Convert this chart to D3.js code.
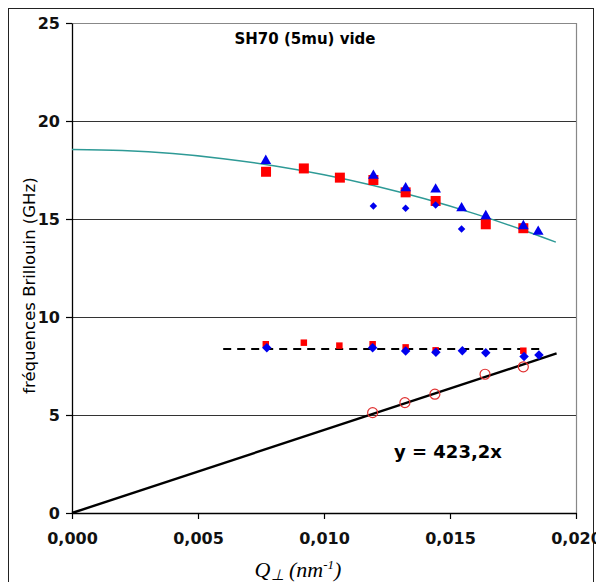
<!DOCTYPE html>
<html><head><meta charset="utf-8">
<script src="https://cdn.jsdelivr.net/npm/d3@7/dist/d3.min.js"></script>
<style>body{margin:0;background:#fff}svg{display:block}</style>
</head><body>
<script>
// ---- data ----
const xTicks = [0, 0.005, 0.010, 0.015, 0.020];
const yTicks = [0, 5, 10, 15, 20, 25];
const gridValues = [5, 10, 15, 20];

const qUpperSq  = [0.0077, 0.0092, 0.01063, 0.01196, 0.01324, 0.01443, 0.01642, 0.01791];
const fUpperSq  = [17.41, 17.58, 17.11, 16.99, 16.36, 15.92, 14.73, 14.53];
const qUpperTri = [0.00769, 0.01196, 0.01324, 0.01443, 0.01546, 0.01642, 0.01791, 0.0185];
const fUpperTri = [17.97, 17.21, 16.57, 16.51, 15.55, 15.15, 14.64, 14.35];
const qUpperDia = [0.01196, 0.01324, 0.01443, 0.01546];
const fUpperDia = [15.66, 15.55, 15.71, 14.49];

const qLowerSq  = [0.00769, 0.0092, 0.01061, 0.01193, 0.01324, 0.01443, 0.01791];
const fLowerSq  = [8.61, 8.69, 8.54, 8.61, 8.45, 8.30, 8.28];
const qLowerDia = [0.00773, 0.01193, 0.01324, 0.01444, 0.01549, 0.01642, 0.01794, 0.01853];
const fLowerDia = [8.43, 8.43, 8.27, 8.20, 8.28, 8.18, 7.98, 8.06];

const qCircle = [0.01193, 0.01321, 0.0144, 0.01639, 0.01791];
const fCircle = [5.12, 5.63, 6.06, 7.08, 7.46];

// teal trend curve
const qCurve = [0, 0.002, 0.004, 0.006, 0.008, 0.010, 0.012, 0.014, 0.016, 0.018, 0.0192];
const fCurve = [18.54, 18.49, 18.34, 18.08, 17.72, 17.26, 16.70, 16.03, 15.26, 14.39, 13.82];

// dashed horizontal level
const qDash = [0.006, 0.0187];
const fDash = [8.37, 8.37];

// linear fit y = 423,2x
const qLine = [0, 0.01923];
const fLine = [0, 8.14];

const titleText = "SH70 (5mu) vide";
const yLabel = "fréquences Brillouin (GHz)";
const eqText = "y = 423,2x";

// ---- drawing ----
const W = 596, H = 582;
const svg = d3.select("body").append("svg").attr("width", W).attr("height", H);
const x = d3.scaleLinear().domain([0, 0.02]).range([72, 576]);
const y = d3.scaleLinear().domain([0, 25]).range([513, 23]);
const font = "'DejaVu Sans', Arial, sans-serif";

// outer frame
svg.append("rect").attr("x", 8.5).attr("y", 8.5).attr("width", 585).attr("height", 590)
  .attr("fill", "none").attr("stroke", "#222").attr("stroke-width", 1);

// cut-off upper title glyph
svg.append("text").attr("x", 289).attr("y", -4).attr("text-anchor", "middle")
  .attr("font-family", "'Liberation Serif', serif").attr("font-style", "italic").attr("font-size", 22)
  .text("Q");

// plot frame (top/right gray)
svg.append("path").attr("d", `M${x(0)},${y(25)+0.5}H${x(0.02)+0.5}V${y(0)}`)
  .attr("fill", "none").attr("stroke", "#888").attr("stroke-width", 1.2);

// gridlines
svg.append("g").selectAll("line").data(gridValues).join("line")
  .attr("x1", x(0)).attr("x2", x(0.02))
  .attr("y1", d => Math.round(y(d)) + 0.5).attr("y2", d => Math.round(y(d)) + 0.5)
  .attr("stroke", "#333").attr("stroke-width", 1.2);

// axes
const fmtX = d => d.toFixed(3).replace(".", ",");
const gx = svg.append("g").attr("transform", `translate(0,${y(0)})`)
  .call(d3.axisBottom(x).tickValues(xTicks).tickFormat(fmtX).tickSize(6).tickSizeOuter(0).tickPadding(14));
const gy = svg.append("g").attr("transform", `translate(${x(0)},0)`)
  .call(d3.axisLeft(y).tickValues(yTicks).tickSize(6).tickSizeOuter(0).tickPadding(6));
[gx, gy].forEach(g => {
  g.select(".domain").attr("stroke", "#000").attr("stroke-width", 1.3);
  g.selectAll(".tick line").attr("stroke", "#000").attr("stroke-width", 1.2);
  g.selectAll(".tick text").attr("font-family", font).attr("font-size", 16)
    .attr("font-weight", "bold").attr("fill", "#111");
});

// teal curve
svg.append("path").datum(qCurve.map((q, i) => [q, fCurve[i]]))
  .attr("d", d3.line().x(d => x(d[0])).y(d => y(d[1])).curve(d3.curveMonotoneX))
  .attr("fill", "none").attr("stroke", "#2e9a96").attr("stroke-width", 1.5);

// dashed level
svg.append("path").datum(qDash.map((q, i) => [q, fDash[i]]))
  .attr("d", d3.line().x(d => x(d[0])).y(d => y(d[1])))
  .attr("fill", "none").attr("stroke", "#000").attr("stroke-width", 2).attr("stroke-dasharray", "8,6");

// linear fit line
svg.append("path").datum(qLine.map((q, i) => [q, fLine[i]]))
  .attr("d", d3.line().x(d => x(d[0])).y(d => y(d[1])))
  .attr("fill", "none").attr("stroke", "#000").attr("stroke-width", 2.4);

// markers
function markers(qs, fs, type, size, color, rot) {
  svg.append("g").selectAll("path").data(qs.map((q, i) => [q, fs[i]])).join("path")
    .attr("d", d3.symbol().type(type).size(size)())
    .attr("transform", d => `translate(${x(d[0])},${y(d[1])}) rotate(${rot || 0})`)
    .attr("fill", color);
}
markers(qUpperSq, fUpperSq, d3.symbolSquare, 100, "#ff0000");
markers(qUpperTri, fUpperTri, d3.symbolTriangle, 50, "#0000ee");
markers(qUpperDia, fUpperDia, d3.symbolSquare, 28, "#0000ee", 45);
markers(qLowerSq, fLowerSq, d3.symbolSquare, 42, "#ff0000");
markers(qLowerDia, fLowerDia, d3.symbolSquare, 45, "#0000ee", 45);

svg.append("g").selectAll("circle").data(qCircle.map((q, i) => [q, fCircle[i]])).join("circle")
  .attr("cx", d => x(d[0])).attr("cy", d => y(d[1])).attr("r", 5)
  .attr("fill", "none").attr("stroke", "#e03030").attr("stroke-width", 1.2);

// texts
svg.append("text").attr("x", 305).attr("y", 44).attr("text-anchor", "middle")
  .attr("font-family", font).attr("font-size", 15).attr("font-weight", "bold").text(titleText);

svg.append("text").attr("transform", `translate(35,${y(11.6)}) rotate(-90)`).attr("text-anchor", "middle")
  .attr("font-family", font).attr("font-size", 16.5).text(yLabel);

svg.append("text").attr("x", 394).attr("y", 458)
  .attr("font-family", font).attr("font-size", 18).attr("font-weight", "bold").text(eqText);

const xt = svg.append("text").attr("x", 298).attr("y", 577).attr("text-anchor", "middle")
  .attr("font-family", "'Liberation Serif', 'Times New Roman', serif").attr("font-style", "italic").attr("font-size", 22);
xt.append("tspan").text("Q");
xt.append("tspan").attr("font-size", 15).attr("dy", 3).text("⊥");
xt.append("tspan").attr("dy", -3).text(" (nm");
xt.append("tspan").attr("font-size", 13).attr("dy", -8).text("-1");
xt.append("tspan").attr("dy", 8).text(")");
</script>
</body></html>
